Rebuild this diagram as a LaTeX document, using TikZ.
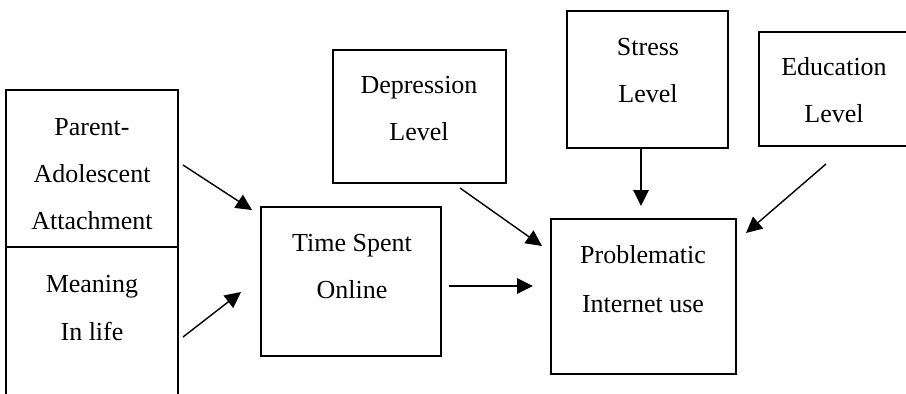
\documentclass[tikz,border=0pt]{standalone}
\usepackage{fontspec}
\setmainfont{Liberation Serif}
\usetikzlibrary{arrows.meta}
\begin{document}
\begin{tikzpicture}[x=1pt,y=1pt,
  box/.style={draw, line width=1.9pt, rectangle, inner sep=0pt},
  frame/.style={rectangle, inner sep=0pt},
  lbl/.style={anchor=base, inner sep=0pt, font=\fontsize{26}{31}\selectfont},
  arr/.style={line width=1.4pt, -{Triangle[length=16pt,width=15.5pt]}}]
\useasboundingbox (0,0) rectangle (906,-394);

% boxes
\node[box, minimum width=172, minimum height=157] (pa) at (92,-168.5) {};
\node[frame, minimum width=172, minimum height=149] (mil) at (92,-321.5) {};
\draw[line width=1.9pt] (mil.south west) -- (mil.north west) -- (mil.north east) -- (mil.south east);
\node[box, minimum width=180, minimum height=149] (tso) at (351,-281.5) {};
\node[box, minimum width=173, minimum height=133] (dep) at (419.5,-116.5) {};
\node[box, minimum width=161, minimum height=137] (str) at (647.5,-79.5) {};
\node[box, minimum width=148, minimum height=114] (edu) at (833,-89) {};
\node[box, minimum width=185, minimum height=155] (piu) at (643.5,-296.5) {};

% labels
\node[lbl] (pa1) at (92,-135) {Parent-};
\node[lbl] (pa2) at (92,-182) {Adolescent};
\node[lbl] (pa3) at (92,-229) {Attachment};
\node[lbl] (mil1) at (92,-292) {Meaning};
\node[lbl] (mil2) at (92,-340) {In life};
\node[lbl] (tso1) at (352,-251) {Time Spent};
\node[lbl] (tso2) at (352,-298) {Online};
\node[lbl] (dep1) at (419,-93) {Depression};
\node[lbl] (dep2) at (419,-140) {Level};
\node[lbl] (str1) at (648,-55) {Stress};
\node[lbl] (str2) at (648,-102) {Level};
\node[lbl] (edu1) at (834,-75) {Education};
\node[lbl] (edu2) at (834,-122) {Level};
\node[lbl] (piu1) at (643,-263) {Problematic};
\node[lbl] (piu2) at (643,-312) {Internet use};

% arrow end points
\coordinate (a1s) at (183,-165);
\coordinate (a1e) at (252,-210);
\coordinate (a2s) at (183,-337);
\coordinate (a2e) at (241,-292);
\coordinate (a3s) at (449,-286);
\coordinate (a3e) at (533,-286);
\coordinate (a4s) at (460,-188);
\coordinate (a4e) at (542,-246);
\coordinate (a5s) at (641,-149);
\coordinate (a5e) at (641,-206);
\coordinate (a6s) at (826,-164);
\coordinate (a6e) at (746,-233);

\draw[arr] (a1s) -- (a1e);
\draw[arr] (a2s) -- (a2e);
\draw[arr] (a3s) -- (a3e);
\draw[arr] (a4s) -- (a4e);
\draw[arr] (a5s) -- (a5e);
\draw[arr] (a6s) -- (a6e);
\end{tikzpicture}
\end{document}
